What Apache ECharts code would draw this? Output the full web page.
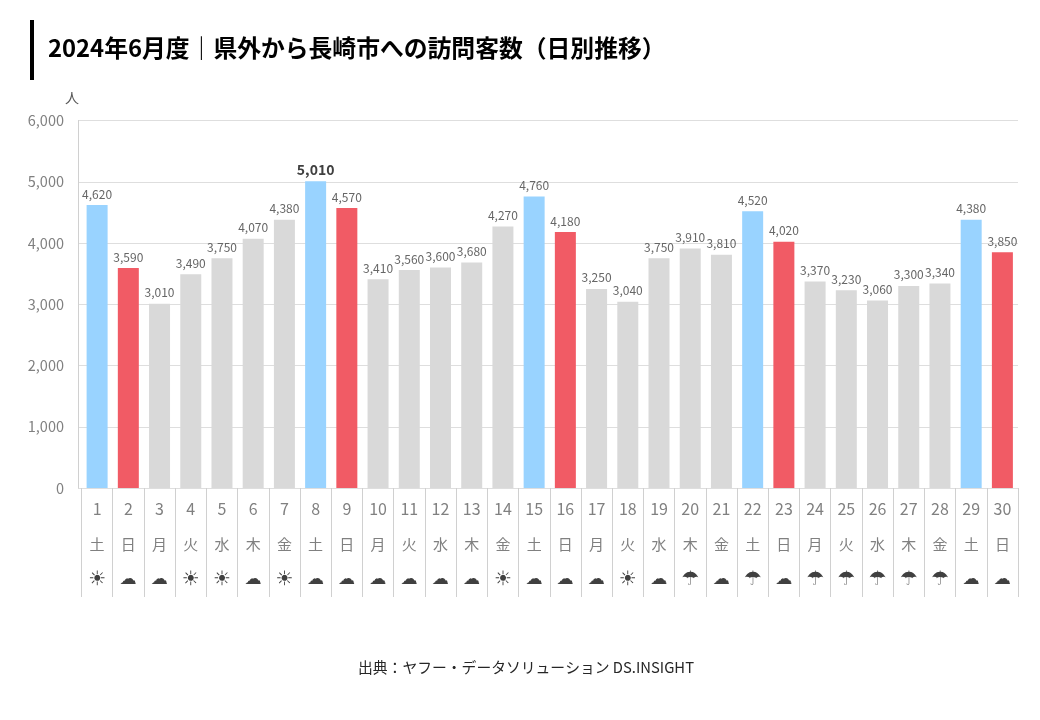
<!DOCTYPE html>
<html>
<head>
<meta charset="utf-8">
<script src="https://cdn.jsdelivr.net/npm/echarts@6/dist/echarts.min.js"></script>
<style>html,body{margin:0;background:#fff}#main{width:1040px;height:720px}</style>
</head>
<body>
<div id="main"></div>
<script>
var days=['1','2','3','4','5','6','7','8','9','10','11','12','13','14','15','16','17','18','19','20','21','22','23','24','25','26','27','28','29','30'];
var weekdays=['土','日','月','火','水','木','金','土','日','月','火','水','木','金','土','日','月','火','水','木','金','土','日','月','火','水','木','金','土','日'];
var weather=['☀','☁','☁','☀','☀','☁','☀','☁','☁','☁','☁','☁','☁','☀','☁','☁','☁','☀','☁','☂','☁','☂','☁','☂','☂','☂','☂','☂','☁','☁'];
var visitors=[4620,3590,3010,3490,3750,4070,4380,5010,4570,3410,3560,3600,3680,4270,4760,4180,3250,3040,3750,3910,3810,4520,4020,3370,3230,3060,3300,3340,4380,3850];
var peak=Math.max.apply(null,visitors);

var font='"Noto Sans CJK JP","Noto Sans",sans-serif';
var myChart=echarts.init(document.getElementById('main'),null,{renderer:'canvas'});

function barColor(i){
	if(weekdays[i]=='土') return '#99D3FF';
	if(weekdays[i]=='日') return '#F15B65';
	return '#D9D9D9';
}

var barData=visitors.map(function(v,i){
	var item={value:v,itemStyle:{color:barColor(i)}};
	if(v==peak){
		item.label={fontSize:14,fontWeight:'bold',color:'#404040',distance:4};
	}
	return item;
});

//天気記号ごとに rich のスタイル名を変える
var weatherStyle={'☀':'sun','☁':'cloud','☂':'rain'};

var option={
	backgroundColor:'#fff',
	animation:false,
	title:[{
		text:'2024年6月度｜県外から長崎市への訪問客数（日別推移）',
		left:43,top:31,
		textStyle:{fontFamily:font,fontSize:23.8,fontWeight:'bold',color:'#000'}
	},{
		text:'出典：ヤフー・データソリューション DS.INSIGHT',
		left:521,top:655,textAlign:'center',
		textStyle:{fontFamily:font,fontSize:14.8,fontWeight:'normal',color:'#262626'}
	}],
	graphic:[{
		type:'rect',
		shape:{x:30,y:20,width:4,height:60},
		style:{fill:'#000'}
	}],
	//背景の目盛り用と棒用でグリッドを分ける
	grid:[
		{left:78,right:22,top:120.5,bottom:232},
		{left:81.5,right:22,top:120.5,bottom:232}
	],
	xAxis:[{
		gridIndex:0,type:'category',data:days,show:false
	},{
		gridIndex:1,type:'category',data:days,
		axisLine:{show:false},
		axisTick:{show:true,length:109,lineStyle:{color:'#D0D0D0'}},
		axisLabel:{
			interval:0,margin:3,
			formatter:function(value,i){
				var st=weatherStyle[weather[i]];
				return '{d|'+value+'}\n{w|'+weekdays[i]+'}\n{'+st+'|'+weather[i]+'}';
			},
			rich:{
				d:{fontFamily:font,fontSize:16,color:'#808080',lineHeight:35,height:35},
				w:{fontFamily:font,fontSize:15,color:'#808080',lineHeight:36,height:36},
				sun:{fontFamily:'"DejaVu Sans"',fontSize:20,color:'#404040',lineHeight:36,height:36},
				cloud:{fontFamily:'"DejaVu Sans"',fontSize:17,color:'#404040',lineHeight:36,height:36,padding:[0,0,1,0]},
				rain:{fontFamily:'"DejaVu Sans"',fontSize:20,color:'#404040',lineHeight:36,height:36}
			}
		}
	}],
	yAxis:[{
		gridIndex:0,type:'value',min:0,max:6000,interval:1000,
		name:'人',nameGap:16,
		nameTextStyle:{fontFamily:font,fontSize:14,color:'#595959',align:'right',padding:[0,-1,0,0]},
		axisLine:{show:true,lineStyle:{color:'#D0D0D0'}},
		axisTick:{show:false},
		axisLabel:{
			fontFamily:font,fontSize:14.5,color:'#808080',margin:14,padding:[0,0,2,0],
			formatter:function(v){return v.toLocaleString('en-US');}
		},
		splitLine:{show:true,lineStyle:{color:'#DEDEDE'}}
	},{
		gridIndex:1,type:'value',min:0,max:6000,interval:1000,show:false
	}],
	series:[{
		name:'訪問客数',
		type:'bar',
		xAxisIndex:1,yAxisIndex:1,
		barWidth:21,
		data:barData,
		label:{
			show:true,position:'top',distance:5,
			fontFamily:font,fontSize:12,color:'#666666',
			formatter:function(p){return p.value.toLocaleString('en-US');}
		}
	}]
};
myChart.setOption(option);
</script>
</body>
</html>
